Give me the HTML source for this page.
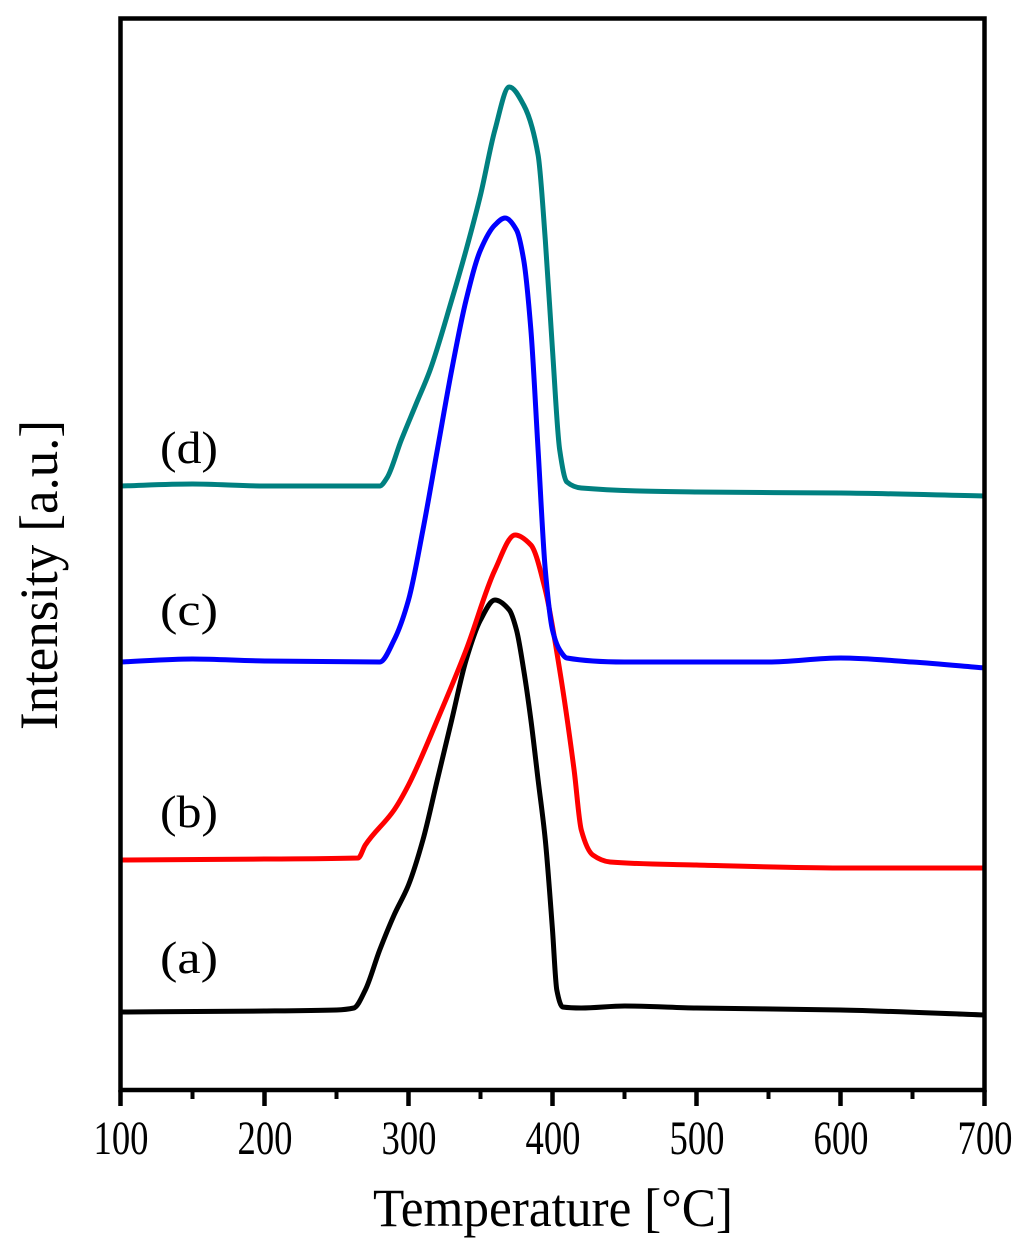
<!DOCTYPE html>
<html><head><meta charset="utf-8"><style>
body{margin:0;background:#fff}
svg text{font-family:"Liberation Serif",serif;fill:#000}
</style></head><body>
<svg id="chart" width="1024" height="1249" viewBox="0 0 1024 1249" xmlns="http://www.w3.org/2000/svg">
<g id="plot"></g>
<rect x="120.5" y="18.5" width="864" height="1071.5" fill="none" stroke="#000" stroke-width="4.5"/>
<g id="ticks"></g>
<text x="373" y="1226" font-size="54" textLength="360" lengthAdjust="spacingAndGlyphs">Temperature [°C]</text>
<text transform="translate(57,730) rotate(-90)" font-size="54" textLength="310" lengthAdjust="spacingAndGlyphs">Intensity [a.u.]</text>
<text x="160" y="463" font-size="46" textLength="58" lengthAdjust="spacingAndGlyphs">(d)</text>
<text x="160" y="625" font-size="46" textLength="58" lengthAdjust="spacingAndGlyphs">(c)</text>
<text x="160" y="827" font-size="46" textLength="58" lengthAdjust="spacingAndGlyphs">(b)</text>
<text x="160" y="973" font-size="46" textLength="58" lengthAdjust="spacingAndGlyphs">(a)</text>
</svg>
<script>
const xTicks=[100,200,300,400,500,600,700];
const xMinor=[150,250,350,450,550,650];
const tA=[100,200,250,262,270,280,290,300,310,320,330,340,350,360,370,375,380,385,390,395,400,403,407,420,450,500,600,700];
const vA=[78,79,80,82,100,140,175,205,250,310,370,430,470,490,480,460,420,370,310,250,160,100,83,82,84,82,80,75];
const tB=[100,200,265,270,290,300,320,340,360,374,385,395,405,415,420,428,440,500,600,700];
const vB=[230,231,232,245,280,305,370,440,520,555,545,500,420,320,260,235,228,225,222,222];
const tC=[100,150,200,280,290,300,310,320,330,340,350,360,367,375,380,385,390,395,400,405,410,450,550,600,650,700];
const vC=[428,431,429,428,450,490,560,640,720,790,840,865,872,860,830,760,640,520,460,440,432,428,428,432,428,422];
const tD=[100,150,200,280,285,295,305,315,330,340,350,360,370,380,390,395,400,405,410,420,500,600,700];
const vD=[604,606,604,604,612,650,685,720,790,840,895,960,1003,985,935,850,740,640,608,602,598,597,594];
const NS="http://www.w3.org/2000/svg";
function sx(t){return 120.5+(t-100)*864/600;}
function sy(v){return 1090-v;}
function monotone(xs,ys){
 const n=xs.length,dl=[],m=new Array(n);
 for(let i=0;i<n-1;i++)dl.push((ys[i+1]-ys[i])/(xs[i+1]-xs[i]));
 m[0]=dl[0];m[n-1]=dl[n-2];
 for(let i=1;i<n-1;i++){
  if(dl[i-1]*dl[i]<=0)m[i]=0;
  else{const h0=xs[i]-xs[i-1],h1=xs[i+1]-xs[i];const w1=2*h1+h0,w2=h1+2*h0;m[i]=(w1+w2)/(w1/dl[i-1]+w2/dl[i]);}
 }
 return m;
}
function path(ts,vs,color,name){
 const m=monotone(ts,vs);
 let d='M'+sx(ts[0]).toFixed(1)+','+sy(vs[0]).toFixed(1);
 for(let i=0;i<ts.length-1;i++){
  const h=ts[i+1]-ts[i];
  const c1t=ts[i]+h/3,c1v=vs[i]+m[i]*h/3;
  const c2t=ts[i+1]-h/3,c2v=vs[i+1]-m[i+1]*h/3;
  d+='C'+sx(c1t).toFixed(1)+','+sy(c1v).toFixed(1)+' '+sx(c2t).toFixed(1)+','+sy(c2v).toFixed(1)+' '+sx(ts[i+1]).toFixed(1)+','+sy(vs[i+1]).toFixed(1);
 }
 const p=document.createElementNS(NS,'path');
 p.setAttribute('d',d);p.setAttribute('fill','none');p.setAttribute('stroke',color);
 p.setAttribute('stroke-width','5');p.setAttribute('stroke-linejoin','round');
 
 
 document.getElementById('plot').appendChild(p);
}
path(tA,vA,'#000','series-a');
path(tB,vB,'#ff0000','series-b');
path(tC,vC,'#0000ff','series-c');
path(tD,vD,'#008080','series-d');
const g=document.getElementById('ticks');
xTicks.forEach(t=>{
 const l=document.createElementNS(NS,'line');
 l.setAttribute('x1',sx(t));l.setAttribute('x2',sx(t));l.setAttribute('y1',1090);l.setAttribute('y2',1106);
 l.setAttribute('stroke','#000');l.setAttribute('stroke-width','4.5');
 
 
 g.appendChild(l);
 const tx=document.createElementNS(NS,'text');
 tx.setAttribute('x',sx(t)-27);tx.setAttribute('y',1154);tx.setAttribute('font-size','48');
 tx.setAttribute('textLength','55');tx.setAttribute('lengthAdjust','spacingAndGlyphs');
 tx.textContent=t;
 
 
 g.appendChild(tx);
});
xMinor.forEach(t=>{
 const l=document.createElementNS(NS,'line');
 l.setAttribute('x1',sx(t));l.setAttribute('x2',sx(t));l.setAttribute('y1',1090);l.setAttribute('y2',1099);
 l.setAttribute('stroke','#000');l.setAttribute('stroke-width','4');
 
 
 g.appendChild(l);
});
</script>
</body></html>
